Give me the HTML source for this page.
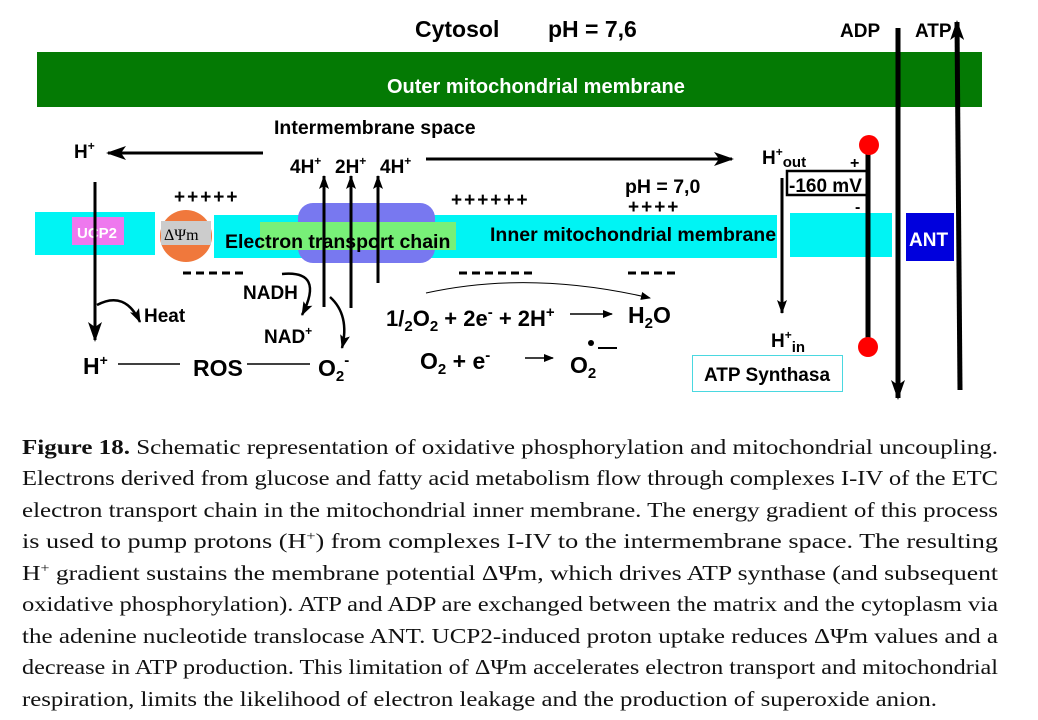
<!DOCTYPE html>
<html><head><meta charset="utf-8">
<style>
body{margin:0;width:1038px;height:720px;background:#fff;position:relative;overflow:hidden}
svg{position:absolute;left:0;top:0}
#d text{font-family:"Liberation Sans",Arial,sans-serif;font-weight:bold}
#c text{font-family:"Liberation Serif",serif;font-size:21px;fill:#111}
</style></head><body>
<svg id="d" width="1038" height="420" viewBox="0 0 1038 420">
<defs>
<marker id="ah" markerWidth="10" markerHeight="8" refX="9" refY="4" orient="auto" markerUnits="userSpaceOnUse"><path d="M0,0 L10,4 L0,8 Z" fill="#000"/></marker>
<marker id="ahb" markerWidth="20" markerHeight="14" refX="18" refY="7" orient="auto" markerUnits="userSpaceOnUse"><path d="M0,0 L20,7 L0,14 L5,7 Z" fill="#000"/></marker>
<marker id="ahs" markerWidth="14" markerHeight="10" refX="13" refY="5" orient="auto" markerUnits="userSpaceOnUse"><path d="M0,0 L14,5 L0,10 L3,5 Z" fill="#000"/></marker>
</defs>
<text x="415" y="37" font-size="23">Cytosol</text>
<text x="548" y="37" font-size="23">pH = 7,6</text>
<text x="840" y="37" font-size="19">ADP</text>
<text x="915" y="37" font-size="19">ATP</text>
<rect x="37" y="52" width="945" height="55" fill="#047a04"/>
<text x="387" y="93" font-size="20" fill="#fff">Outer mitochondrial membrane</text>
<text x="274" y="134" font-size="19.5">Intermembrane space</text>
<rect x="35" y="212" width="120" height="43" fill="#00f4f4"/>
<rect x="214" y="215" width="563" height="43" fill="#00f4f4"/>
<rect x="790" y="213" width="102" height="44" fill="#00f4f4"/>
<rect x="906" y="213" width="48" height="48" fill="#0000dd"/>
<text x="909" y="246" font-size="19" fill="#fff">ANT</text>
<rect x="72" y="217" width="52" height="28" fill="#ee78ee"/>
<text x="77" y="238" font-size="15" fill="#fff">UCP2</text>
<circle cx="186" cy="236" r="26" fill="#f0783c"/>
<rect x="161" y="221" width="50" height="24" fill="#ccc"/>
<text x="164" y="240" font-size="16" style="font-family:'Liberation Serif',serif;font-weight:normal">ΔΨm</text>
<rect x="298" y="203" width="137" height="60" rx="15" fill="#7878f0"/>
<rect x="260" y="222" width="196" height="28" fill="#78f078"/>
<text x="225" y="248" font-size="19.5">Electron transport chain</text>
<text x="490" y="241" font-size="19.5">Inner mitochondrial membrane</text>
<text x="74" y="158" font-size="19">H<tspan font-size="12" dy="-8">+</tspan></text>
<line x1="263" y1="153" x2="108" y2="153" stroke="#000" stroke-width="3" marker-end="url(#ahb)"/>
<line x1="426" y1="159" x2="732" y2="159" stroke="#000" stroke-width="3" marker-end="url(#ahb)"/>
<text x="290" y="173" font-size="19">4H<tspan font-size="12" dy="-8">+</tspan></text>
<text x="335" y="173" font-size="19">2H<tspan font-size="12" dy="-8">+</tspan></text>
<text x="380" y="173" font-size="19">4H<tspan font-size="12" dy="-8">+</tspan></text>
<line x1="324" y1="307" x2="324" y2="176" stroke="#000" stroke-width="3" marker-end="url(#ahs)"/>
<line x1="351" y1="308" x2="351" y2="176" stroke="#000" stroke-width="3" marker-end="url(#ahs)"/>
<line x1="378" y1="283" x2="378" y2="176" stroke="#000" stroke-width="3" marker-end="url(#ahs)"/>
<text x="174" y="203" font-size="19" letter-spacing="2">+++++</text>
<text x="451" y="206" font-size="19" letter-spacing="2">++++++</text>
<text x="625" y="193" font-size="19.5">pH = 7,0</text>
<text x="628" y="213" font-size="19" letter-spacing="2">++++</text>
<g stroke="#000" stroke-width="3">
<line x1="183" y1="273" x2="248" y2="273" stroke-dasharray="8,5"/>
<line x1="459" y1="273" x2="537" y2="273" stroke-dasharray="8,5"/>
<line x1="628" y1="273" x2="677" y2="273" stroke-dasharray="8,5"/>
</g>
<line x1="95" y1="182" x2="95" y2="340" stroke="#000" stroke-width="3" marker-end="url(#ahb)"/>
<path d="M97,305 Q125,290 140,322" fill="none" stroke="#000" stroke-width="2.5" marker-end="url(#ahs)"/>
<text x="144" y="322" font-size="19">Heat</text>
<text x="83" y="374" font-size="23">H<tspan font-size="14" dy="-9">+</tspan></text>
<line x1="118" y1="364" x2="180" y2="364" stroke="#000" stroke-width="1.5"/>
<text x="193" y="376" font-size="23">ROS</text>
<line x1="247" y1="364" x2="310" y2="364" stroke="#000" stroke-width="1.5"/>
<text x="318" y="376" font-size="23">O<tspan font-size="15" dy="5">2</tspan><tspan font-size="15" dy="-16">-</tspan></text>
<text x="243" y="299" font-size="19">NADH</text>
<text x="264" y="343" font-size="19">NAD<tspan font-size="12" dy="-8">+</tspan></text>
<path d="M282,274 Q325,270 302,315" fill="none" stroke="#000" stroke-width="2.5" marker-end="url(#ahs)"/>
<path d="M330,297 Q350,315 342,348" fill="none" stroke="#000" stroke-width="2.5" marker-end="url(#ahs)"/>
<text x="386" y="326" font-size="22">1/<tspan font-size="15" dy="5">2</tspan><tspan dy="-5">O</tspan><tspan font-size="15" dy="5">2</tspan><tspan dy="-5"> + 2e</tspan><tspan font-size="15" dy="-9">-</tspan><tspan dy="9"> + 2H</tspan><tspan font-size="15" dy="-9">+</tspan></text>
<line x1="570" y1="314" x2="612" y2="314" stroke="#000" stroke-width="1.5" marker-end="url(#ah)"/>
<path d="M426,293 Q530,270 650,298" fill="none" stroke="#000" stroke-width="1" marker-end="url(#ah)"/>
<text x="628" y="323" font-size="23">H<tspan font-size="15" dy="5">2</tspan><tspan dy="-5">O</tspan></text>
<text x="420" y="369" font-size="23">O<tspan font-size="15" dy="5">2</tspan><tspan dy="-5"> + e</tspan><tspan font-size="15" dy="-9">-</tspan></text>
<line x1="525" y1="358" x2="553" y2="358" stroke="#000" stroke-width="1.5" marker-end="url(#ah)"/>
<text x="570" y="373" font-size="23">O<tspan font-size="15" dy="5">2</tspan></text>
<circle cx="591" cy="343" r="3" fill="#000"/>
<line x1="598" y1="348" x2="617" y2="348" stroke="#000" stroke-width="2"/>
<text x="762" y="164" font-size="19">H<tspan font-size="12" dy="-8">+</tspan><tspan font-size="15" dy="11">out</tspan></text>
<line x1="782" y1="178" x2="782" y2="313" stroke="#000" stroke-width="3" marker-end="url(#ahs)"/>
<rect x="787" y="171" width="81" height="24" fill="#fff" stroke="#000" stroke-width="2.5"/>
<text x="789" y="192" font-size="19">-160 mV</text>
<text x="850" y="168" font-size="16">+</text>
<text x="855" y="212" font-size="16">-</text>
<line x1="868" y1="145" x2="868" y2="347" stroke="#000" stroke-width="5"/>
<circle cx="869" cy="145" r="10" fill="#f00"/>
<circle cx="868" cy="347" r="10" fill="#f00"/>
<text x="771" y="347" font-size="19">H<tspan font-size="12" dy="-8">+</tspan><tspan font-size="15" dy="13">in</tspan></text>
<rect x="692.5" y="355.5" width="150" height="36" fill="#fff" stroke="#4ad8e0" stroke-width="1"/>
<text x="704" y="381" font-size="19">ATP Synthasa</text>
<line x1="898" y1="28" x2="898" y2="398" stroke="#000" stroke-width="5" marker-end="url(#ahb)"/>
<line x1="960" y1="390" x2="957" y2="22" stroke="#000" stroke-width="5" marker-end="url(#ahb)"/>
</svg>
<svg id="c" width="1038" height="720" viewBox="0 0 1038 720">
<text x="22" y="454" textLength="976" lengthAdjust="spacingAndGlyphs"><tspan font-weight="bold">Figure 18.</tspan> Schematic representation of oxidative phosphorylation and mitochondrial uncoupling.</text>
<text x="22" y="485" textLength="976" lengthAdjust="spacingAndGlyphs">Electrons derived from glucose and fatty acid metabolism flow through complexes I-IV of the ETC</text>
<text x="22" y="517" textLength="976" lengthAdjust="spacingAndGlyphs">electron transport chain in the mitochondrial inner membrane. The energy gradient of this process</text>
<text x="22" y="548" textLength="976" lengthAdjust="spacingAndGlyphs">is used to pump protons (H<tspan font-size="13" dy="-8">+</tspan><tspan dy="8">) from complexes I-IV to the intermembrane space.  The resulting</tspan></text>
<text x="22" y="580" textLength="976" lengthAdjust="spacingAndGlyphs">H<tspan font-size="13" dy="-8">+</tspan><tspan dy="8"> gradient sustains the membrane potential ΔΨm, which drives ATP synthase (and subsequent</tspan></text>
<text x="22" y="611" textLength="976" lengthAdjust="spacingAndGlyphs">oxidative phosphorylation). ATP and ADP are exchanged between the matrix and the cytoplasm via</text>
<text x="22" y="643" textLength="976" lengthAdjust="spacingAndGlyphs">the adenine nucleotide translocase ANT. UCP2-induced proton uptake reduces ΔΨm values and a</text>
<text x="22" y="674" textLength="976" lengthAdjust="spacingAndGlyphs">decrease in ATP production. This limitation of ΔΨm accelerates electron transport and mitochondrial</text>
<text x="22" y="706" textLength="915" lengthAdjust="spacingAndGlyphs">respiration, limits the likelihood of electron leakage and the production of superoxide anion.</text>
</svg>
</body></html>
